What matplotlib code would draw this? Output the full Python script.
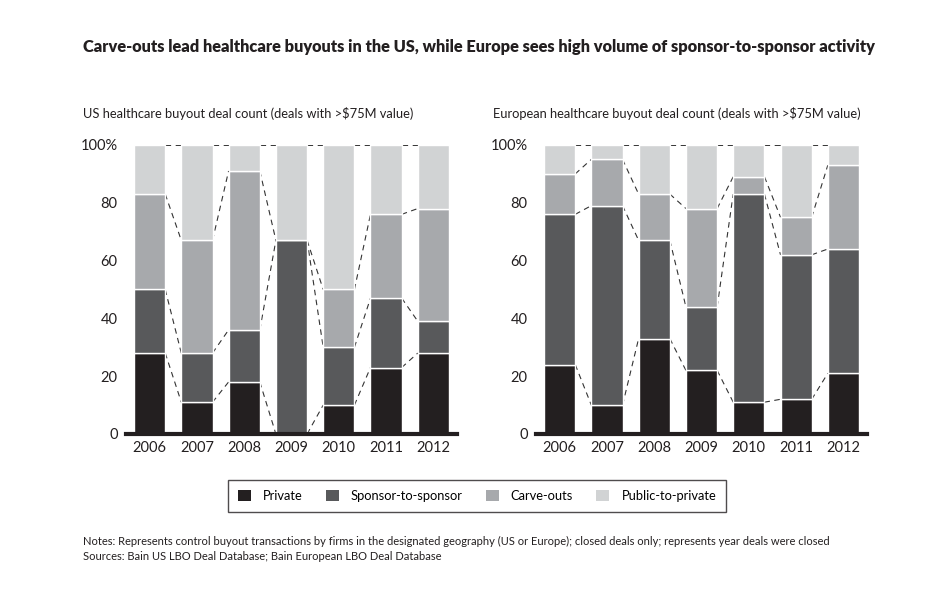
import matplotlib
matplotlib.use('Agg')
import matplotlib.pyplot as plt
from matplotlib.patches import Patch

plt.rcParams['font.family'] = ['Lato', 'DejaVu Sans']

YEARS = ['2006', '2007', '2008', '2009', '2010', '2011', '2012']
CATEGORIES = ['Private', 'Sponsor-to-sponsor', 'Carve-outs', 'Public-to-private']
COLORS = ['#231f20', '#58595b', '#a7a9ac', '#d1d3d4']

# shares in %
US_PRIVATE = [28, 11, 18, 0, 10, 23, 28]
US_SPONSOR = [22, 17, 18, 67, 20, 24, 11]
US_CARVE = [33, 39, 55, 0, 20, 29, 39]
US_PUBLIC = [17, 33, 9, 33, 50, 24, 22]

EU_PRIVATE = [24, 10, 33, 22, 11, 12, 21]
EU_SPONSOR = [52, 69, 34, 22, 72, 50, 43]
EU_CARVE = [14, 16, 16, 34, 6, 13, 29]
EU_PUBLIC = [10, 5, 17, 22, 11, 25, 7]

TITLE = 'Carve-outs lead healthcare buyouts in the US, while Europe sees high volume of sponsor-to-sponsor activity'
SUB_US = 'US healthcare buyout deal count (deals with >$75M value)'
SUB_EU = 'European healthcare buyout deal count (deals with >$75M value)'
NOTES = 'Notes: Represents control buyout transactions by firms in the designated geography (US or Europe); closed deals only; represents year deals were closed'
SOURCES = 'Sources: Bain US LBO Deal Database; Bain European LBO Deal Database'

BAR_W = 0.66


def draw_panel(ax, series):
    x = list(range(len(YEARS)))
    bottom = [0] * len(YEARS)
    cums = []
    for vals, col in zip(series, COLORS):
        ax.bar(x, vals, BAR_W, bottom=bottom, color=col, edgecolor='white',
               linewidth=1, zorder=2)
        bottom = [b + v for b, v in zip(bottom, vals)]
        cums.append(list(bottom))

    # dashed connectors between segment boundaries
    for k, cum in enumerate(cums):
        top = k == len(cums) - 1
        for i in range(len(YEARS) - 1):
            ax.plot([i + BAR_W / 2, i + 1 - BAR_W / 2], [cum[i], cum[i + 1]],
                    color='black' if top else '#333333',
                    lw=1.1 if top else 0.8,
                    ls=(0, (4, 3)) if top else (0, (5, 4)), zorder=1)

    ax.axhline(0, color='#231f20', lw=3.0, zorder=3, clip_on=False)
    ax.set_xlim(-0.5, 6.5)
    ax.set_ylim(0, 100)
    ax.set_xticks(x)
    ax.set_xticklabels(YEARS)
    ax.set_yticks([0, 20, 40, 60, 80, 100])
    ax.set_yticklabels(['0', '20', '40', '60', '80', '100%'])
    ax.tick_params(length=0, labelsize=10.5, colors='#231f20')
    ax.tick_params(axis='x', pad=5)
    ax.tick_params(axis='y', pad=6)
    for s in ax.spines.values():
        s.set_visible(False)


fig = plt.figure(figsize=(9.5, 6), dpi=100)

ax_us = fig.add_axes([0.1326, 0.2767, 0.3485, 0.4817])
ax_eu = fig.add_axes([0.5642, 0.2767, 0.3485, 0.4817])

draw_panel(ax_us, [US_PRIVATE, US_SPONSOR, US_CARVE, US_PUBLIC])
draw_panel(ax_eu, [EU_PRIVATE, EU_SPONSOR, EU_CARVE, EU_PUBLIC])

fig.text(83 / 950, 1 - 47 / 600, TITLE, ha='left', va='center', fontsize=11.75,
         fontweight='heavy', color='#231f20')
fig.text(83 / 950, 1 - 114 / 600, SUB_US, ha='left', va='center', fontsize=9.25,
         color='#231f20')
fig.text(493 / 950, 1 - 114 / 600, SUB_EU, ha='left', va='center', fontsize=9.25,
         color='#231f20')

handles = [Patch(facecolor=c, edgecolor='none') for c in COLORS]
leg = fig.legend(handles, CATEGORIES, loc='center', bbox_to_anchor=(477 / 950, 1 - 496 / 600),
                 ncol=4, frameon=True, fancybox=False, edgecolor='#231f20',
                 fontsize=9.25, handlelength=1.0, handleheight=0.95, handletextpad=0.95,
                 columnspacing=1.8, borderpad=0.75, borderaxespad=0)
leg.get_frame().set_linewidth(1.0)

fig.text(83 / 950, 1 - 541 / 600, NOTES, ha='left', va='center', fontsize=8.05,
         color='#231f20')
fig.text(83 / 950, 1 - 557 / 600, SOURCES, ha='left', va='center', fontsize=8.05,
         color='#231f20')

fig.savefig('out.png', dpi=100)
